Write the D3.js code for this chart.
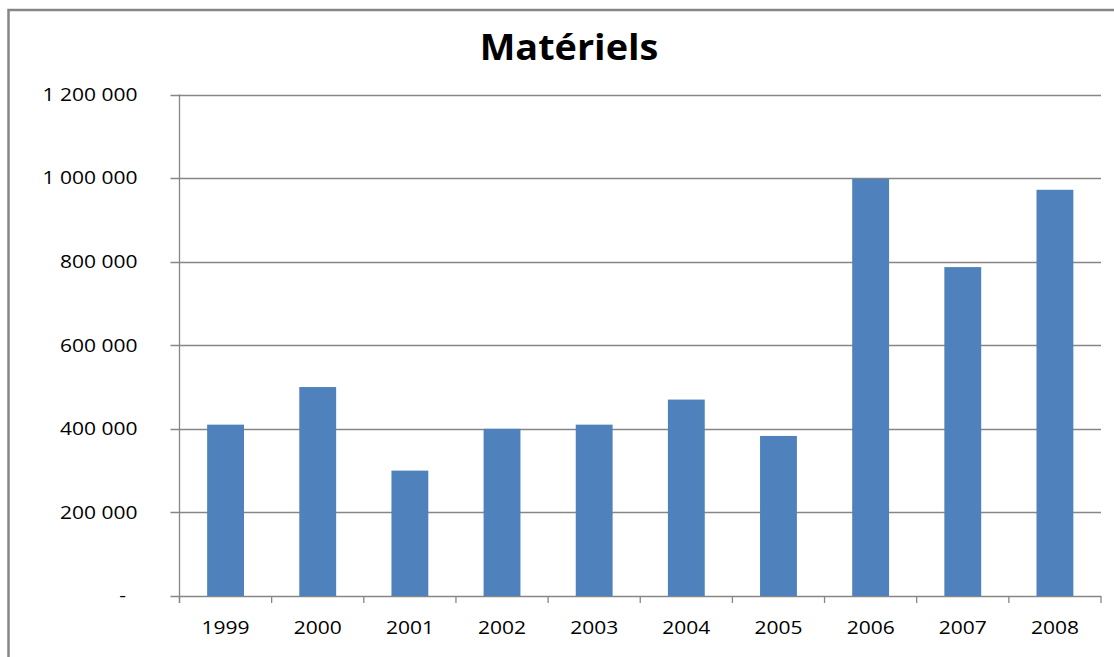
<!DOCTYPE html>
<html>
<head>
<meta charset="utf-8">
<script src="https://cdn.jsdelivr.net/npm/d3@7"></script>
<style>
  body { margin: 0; background: #fff; }
  text { font-family: "Open Sans", sans-serif; fill: #000; }
</style>
</head>
<body>
<div id="chart"></div>
<script>
// chart data
var title = "Matériels";
var years = ["1999", "2000", "2001", "2002", "2003", "2004", "2005", "2006", "2007", "2008"];
var values = [410000, 500000, 300000, 400000, 410000, 470000, 383000, 998000, 787000, 972000];
var yTicks = [0, 200000, 400000, 600000, 800000, 1000000, 1200000];

var W = 1114, H = 657;
var plot = {left: 179.5, right: 1101, top: 94.5, bottom: 596};
var stretch = 1.2; // the reference text is drawn a little wide

var svg = d3.select("#chart").append("svg")
    .attr("width", W)
    .attr("height", H);

// chart area border (runs off the right and bottom of the shot)
svg.append("rect")
    .attr("x", 8.5).attr("y", 10)
    .attr("width", W + 40).attr("height", H + 40)
    .attr("fill", "none")
    .attr("stroke", "#868686")
    .attr("stroke-width", 2.5);

// title
svg.append("text")
    .attr("transform", "translate(569,60) scale(1.05,1)")
    .attr("text-anchor", "middle")
    .attr("font-size", 36)
    .attr("font-weight", "bold")
    .text(title);

var x = d3.scaleBand()
    .domain(years)
    .range([plot.left, plot.right])
    .paddingInner(0.6)
    .paddingOuter(0.3);

var y = d3.scaleLinear()
    .domain([0, 1200000])
    .range([plot.bottom, plot.top]);

var fr = d3.formatLocale({decimal: ",", thousands: " ", grouping: [3], currency: ["", " €"]});
var fmt = function(v) { return v === 0 ? "-" : fr.format(",d")(v); };

// gridlines + y ticks
svg.append("g")
    .selectAll("line")
    .data(yTicks)
    .enter()
    .append("line")
    .attr("x1", plot.left - 9)
    .attr("x2", plot.right)
    .attr("y1", d => Math.round(y(d)) + 0.5)
    .attr("y2", d => Math.round(y(d)) + 0.5)
    .attr("stroke", "#868686")
    .attr("stroke-width", 1.3);

// y tick labels
svg.append("g")
    .selectAll("text")
    .data(yTicks)
    .enter()
    .append("text")
    .attr("transform", d => "translate(" + (d === 0 ? 126 : 137.5) + "," + y(d) + ") scale(" + stretch + ",1)")
    .attr("text-anchor", "end")
    .attr("dy", "0.36em")
    .attr("font-size", 17.5)
    .text(fmt);

// bars
svg.append("g")
    .selectAll("rect")
    .data(values)
    .enter()
    .append("rect")
    .attr("x", (d, i) => x(years[i]))
    .attr("width", x.bandwidth())
    .attr("y", d => y(d))
    .attr("height", d => y(0) - y(d))
    .attr("fill", "#4F81BD");

// y axis line
svg.append("line")
    .attr("x1", plot.left).attr("x2", plot.left)
    .attr("y1", plot.top).attr("y2", plot.bottom + 7)
    .attr("stroke", "#868686")
    .attr("stroke-width", 1.3);

// x axis category boundary ticks
var step = x.step();
svg.append("g")
    .selectAll("line")
    .data(years.concat(["end"]))
    .enter()
    .append("line")
    .attr("x1", (d, i) => plot.left + i * step)
    .attr("x2", (d, i) => plot.left + i * step)
    .attr("y1", plot.bottom)
    .attr("y2", plot.bottom + 7)
    .attr("stroke", "#868686")
    .attr("stroke-width", 1.3);

// x labels
svg.append("g")
    .selectAll("text")
    .data(years)
    .enter()
    .append("text")
    .attr("transform", d => "translate(" + (x(d) + x.bandwidth() / 2) + ",634) scale(" + stretch + ",1)")
    .attr("text-anchor", "middle")
    .attr("font-size", 17.5)
    .text(d => d);
</script>
</body>
</html>
